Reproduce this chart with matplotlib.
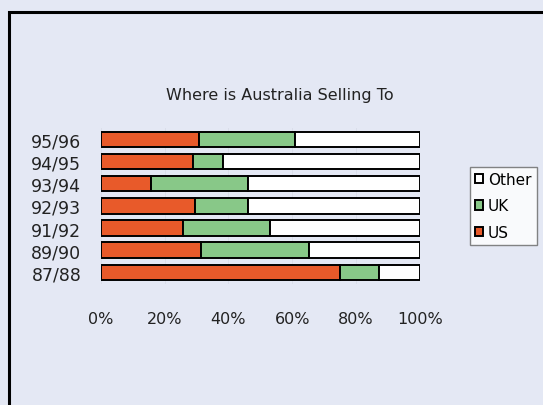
import matplotlib.pyplot as plt
from matplotlib.patches import Rectangle

years = ['87/88', '89/90', '91/92', '92/93', '93/94', '94/95', '95/96']
us = [75.1, 31.3, 25.7, 29.5, 15.7, 29.0, 30.7]
uk = [12.2, 34.0, 27.5, 16.6, 30.4, 9.3, 30.2]
other = [100 - a - b for a, b in zip(us, uk)]

bg = '#E4E8F4'
colors = {'US': '#E85A2A', 'UK': '#88C888', 'Other': '#FFFFFF'}

fig = plt.figure(figsize=(5.43, 4.06), dpi=100)
fig.patch.set_facecolor(bg)

# outer frame, runs off the right and bottom edges
fig.patches.append(Rectangle((8.6 / 543, -0.1), 1.2, (406 - 13) / 406 + 0.1,
                             transform=fig.transFigure, fill=False,
                             edgecolor='black', linewidth=2.2))

ax = fig.add_axes([100.8 / 543, (406 - 284.5) / 406, 318.9 / 543, 155.3 / 406])
ax.set_facecolor(bg)

y = range(len(years))
h = 0.7
b_us = ax.barh(y, us, height=h, color=colors['US'], edgecolor='black', linewidth=1.4, label='US', zorder=3)
b_uk = ax.barh(y, uk, left=us, height=h, color=colors['UK'], edgecolor='black', linewidth=1.4, label='UK', zorder=3)
left2 = [a + b for a, b in zip(us, uk)]
b_ot = ax.barh(y, other, left=left2, height=h, color=colors['Other'], edgecolor='black', linewidth=1.4, label='Other', zorder=3)

ax.set_xlim(0, 100)
ax.set_ylim(-0.5, len(years) - 0.5)
ax.set_yticks(list(y))
ax.set_yticklabels(years, fontsize=12.5, color='#222222')
ax.set_xticks([0, 20, 40, 60, 80, 100])
ax.set_xticklabels(['0%', '20%', '40%', '60%', '80%', '100%'], fontsize=11.5, color='#222222')
ax.tick_params(axis='both', length=0)
ax.tick_params(axis='x', pad=20)
ax.tick_params(axis='y', pad=14)
ax.grid(axis='x', color='#DADEEA', linewidth=0.7, zorder=0)
for s in ax.spines.values():
    s.set_visible(False)

fig.text(280 / 543, 1 - 96 / 406, 'Where is Australia Selling To', ha='center', va='center',
         fontsize=11.5, color='#222222')

leg = fig.legend(handles=[b_ot, b_uk, b_us], labels=['Other', 'UK', 'US'],
                 loc='upper left', bbox_to_anchor=(469.5 / 543, 1 - 167.6 / 406),
                 fontsize=11, frameon=True, fancybox=False, handlelength=0.55,
                 handleheight=0.55, handletextpad=0.3, borderpad=0.35, labelspacing=0.75,
                 borderaxespad=0)
leg.get_frame().set_edgecolor('#666666')
leg.get_frame().set_linewidth(1.0)

fig.savefig('out.png', dpi=100, facecolor=bg)
